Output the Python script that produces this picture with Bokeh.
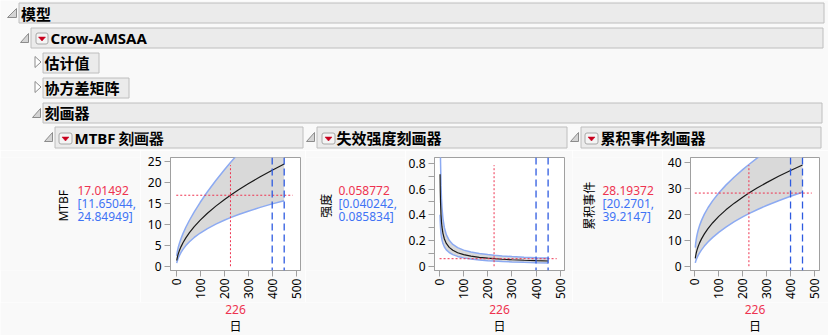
import math
from bokeh.plotting import figure
from bokeh.models import Range1d, FixedTicker, Span
from bokeh.layouts import column, row
from bokeh.embed import file_html
from bokeh.resources import INLINE
from bokeh.core.properties import value

# ---------------- data ----------------
days = [2, 3, 4, 6, 8, 10, 14, 20, 28, 40, 55, 75, 100, 130, 165, 200, 226, 260, 300, 350, 400, 450]
mtbf = [1.3963, 1.7303, 2.0147, 2.4965, 2.9068, 3.2709, 3.9080, 4.7192, 5.6385, 6.8088, 8.0580,
        9.4946, 11.0546, 12.7002, 14.4067, 15.9497, 17.01492, 18.3237, 19.7644, 21.4436, 23.0123, 24.4915]
mtbf_lo = [0.7823, 1.0185, 1.2264, 1.5895, 1.9062, 2.1911, 2.6946, 3.3376, 4.0600, 4.9594, 5.8873,
           6.9107, 7.9720, 9.0413, 10.1035, 11.0286, 11.65044, 12.397, 13.1996, 14.112, 14.944, 15.713]
mtbf_hi = [2.4923, 2.9396, 3.3096, 3.9211, 4.4327, 4.8828, 5.6678, 6.6727, 7.8307, 9.3479, 11.029,
           13.045, 15.329, 17.840, 20.543, 23.067, 24.84949, 27.084, 29.594, 32.584, 35.437, 38.175]
intens = [0.71617, 0.57794, 0.49636, 0.40056, 0.34403, 0.30573, 0.25589, 0.21190, 0.17735, 0.14687, 0.12410,
          0.10532, 0.090460, 0.078739, 0.069412, 0.062697, 0.058772, 0.054574, 0.050596, 0.046634, 0.043455, 0.040830]
intens_lo = [0.40123, 0.34018, 0.30216, 0.25503, 0.22560, 0.20480, 0.17644, 0.14986, 0.12770, 0.10698, 0.09067,
             0.07666, 0.065235, 0.056054, 0.048679, 0.043353, 0.040242, 0.036923, 0.033790, 0.030690, 0.028220, 0.026195]
intens_hi = [1.2783, 0.98187, 0.81538, 0.62914, 0.52463, 0.45639, 0.37112, 0.29961, 0.24630, 0.20164, 0.16986,
             0.14470, 0.12544, 0.11060, 0.098975, 0.090673, 0.085834, 0.080664, 0.075760, 0.070862, 0.066916, 0.063643]
cum = [3.0403, 3.6802, 4.2143, 5.1014, 5.8418, 6.4893, 7.6041, 8.9955, 10.5406, 12.4695, 14.4877,
       16.7672, 19.2010, 21.7271, 24.3102, 26.6162, 28.19372, 30.1181, 32.2185, 34.6451, 36.8949, 39.0]
cum_lo = [1.2864, 1.6460, 1.9597, 2.5046, 2.9789, 3.4065, 4.1669, 5.1529, 6.2866, 7.7467, 9.3147,
          11.1196, 13.0702, 15.104, 17.180, 19.021, 20.2701, 21.779, 23.407, 25.257, 26.943, 28.494]
cum_hi = [7.186, 8.2285, 9.0626, 10.391, 11.456, 12.362, 13.877, 15.704, 17.673, 20.071, 22.533,
          25.283, 28.208, 31.255, 34.400, 37.244, 39.2147, 41.649, 44.348, 47.522, 50.522, 53.380]

current_day = 226
marker_days = [400, 450]
x_ticks = [0, 100, 200, 300, 400, 500]

current_values = [17.01492, 0.058772, 28.19372]
readout_value = ["17.01492", "0.058772", "28.19372"]
readout_lo = ["[11.65044,", "[0.040242,", "[20.2701,"]
readout_hi = ["24.84949]", "0.085834]", "39.2147]"]
y_titles = ["MTBF", "强度", "累积事件"]
x_title = "日"
panel_titles = ["MTBF 刻画器", "失效强度刻画器", "累积事件刻画器"]
outline_titles = ["模型", "Crow-AMSAA", "估计值", "协方差矩阵", "刻画器"]

# ---------------- style ----------------
PAGE_BG = "#F9F9F9"
HDR_FILL = "#EBEBEB"
HDR_LINE = "#BEBEBE"
FRAME = "#A0A0A0"
RED = "#EE3350"
BLUE_TXT = "#3F73F5"
BAND = "#D9D9D9"
BAND_EDGE = "#8CAAF2"
DASH_BLUE = "#2E5BE0"
CJK = "Noto Sans CJK SC"
LAT = "Noto Sans"

TOP_H = 150
MID_H = 152
BOT_H = 335 - TOP_H - MID_H


def canvas(W, H):
    c = figure(width=W, height=H, x_range=Range1d(0, W), y_range=Range1d(H, 0),
               output_backend="svg", toolbar_location=None, x_axis_type=None, y_axis_type=None,
               min_border=0)
    c.grid.visible = False
    c.outline_line_color = None
    c.background_fill_color = PAGE_BG
    c.border_fill_color = PAGE_BG
    return c


# ---------------- header canvas ----------------
top = canvas(828, TOP_H)
boxes = [  # left, right, top, bottom
    (18.5, 823.5, 2.5, 22.5),
    (30.5, 822.5, 27.5, 47.5),
    (42.5, 98.5, 52.5, 72.5),
    (42.5, 128.5, 77.5, 97.5),
    (42.5, 821.5, 102.5, 122.5),
    (54.5, 302.5, 126.5, 147.5),
    (316.5, 566.5, 126.5, 147.5),
    (580.5, 820.5, 126.5, 147.5),
]
top.quad(left=[b[0] for b in boxes], right=[b[1] for b in boxes],
         top=[b[2] for b in boxes], bottom=[b[3] for b in boxes],
         fill_color=HDR_FILL, line_color=HDR_LINE, line_width=1)

exp_tri = [(7, 16, 8, 17), (20, 28, 33, 42), (32, 40, 108, 117), (44, 52, 132, 141),
           (306, 314, 132, 141), (570, 578, 132, 141)]
top.patches(xs=[[a, b, b] for a, b, c, d in exp_tri], ys=[[d, d, c] for a, b, c, d in exp_tri],
            fill_color="#D4D4D4", line_color="#8C8C8C", line_width=1)
col_tri = [(34.5, 40.5, 56, 67), (34.5, 40.5, 81, 92)]
top.patches(xs=[[a, b, a] for a, b, c, d in col_tri], ys=[[c, (c + d) / 2, d] for a, b, c, d in col_tri],
            fill_color="#FFFFFF", line_color="#8C8C8C", line_width=1)
icons = [(35.5, 47.5, 32.5, 43.5), (58.5, 71.5, 132.5, 143.5), (321.5, 334.5, 132.5, 143.5),
         (584.5, 597.5, 132.5, 143.5)]
top.quad(left=[i[0] for i in icons], right=[i[1] for i in icons], top=[i[2] for i in icons],
         bottom=[i[3] for i in icons], fill_color="#F4F4F4", line_color="#A8A8A8", line_width=1,
         border_radius=2)
top.patches(xs=[[(a + b) / 2 - 3.5, (a + b) / 2 + 3.5, (a + b) / 2] for a, b, c, d in icons],
            ys=[[(c + d) / 2 - 1.5, (c + d) / 2 - 1.5, (c + d) / 2 + 2.5] for a, b, c, d in icons],
            fill_color="#C8001E", line_color="#C8001E", line_width=0.5)

titles = outline_titles + panel_titles
title_x = [20.5, 50, 44, 44, 44, 74, 336, 600]
title_y = [12.5, 37, 62, 87, 112, 137, 137, 137]
title_font = [CJK, LAT, CJK, CJK, CJK, LAT, CJK, CJK]
top.text(x=title_x, y=title_y, text=titles, text_font=title_font, text_font_size="15px",
         text_font_style="bold", text_baseline="middle", text_align="left", text_color="#000000")


# ---------------- profiler plots ----------------
def plot(W, fl, fw, xr, yr, ticker, est, lo, hi, idx):
    p = figure(width=W, height=MID_H, x_range=Range1d(*xr), y_range=Range1d(*yr),
               output_backend="svg", toolbar_location=None,
               min_border_left=fl, min_border_right=W - fl - fw, min_border_top=7, min_border_bottom=31)
    p.grid.visible = False
    p.background_fill_color = "#FFFFFF"
    p.border_fill_color = PAGE_BG
    p.outline_line_color = FRAME
    for ax in (p.xaxis[0], p.yaxis[0]):
        ax.axis_line_color = FRAME
        ax.major_tick_line_color = FRAME
        ax.minor_tick_line_color = FRAME
        ax.major_tick_in = 0
        ax.major_tick_out = 6
        ax.minor_tick_in = 0
        ax.minor_tick_out = 0
        ax.major_label_text_font = LAT
        ax.major_label_text_font_size = "12px"
        ax.major_label_text_color = "#000000"
    p.xaxis.major_label_standoff = 2
    p.yaxis.major_label_standoff = 3
    p.xaxis.ticker = FixedTicker(ticks=x_ticks)
    p.xaxis.major_label_orientation = math.pi / 2
    p.yaxis.ticker = ticker
    if ticker.minor_ticks:
        p.yaxis.minor_tick_out = 6

    p.varea(x=days, y1=lo, y2=hi, fill_color=BAND)
    p.line(days, lo, line_color=BAND_EDGE, line_width=1.5)
    p.line(days, hi, line_color=BAND_EDGE, line_width=1.5)
    p.line(days, est, line_color="#1A1A1A", line_width=1.2)

    y0, y1 = yr
    x0, x1 = xr
    p.segment(x0=[current_day], x1=[current_day], y0=[y0 + 0.038 * (y1 - y0)], y1=[y0 + 0.932 * (y1 - y0)],
              line_color=RED, line_width=1, line_dash="2 2")
    p.segment(x0=[0], x1=[x0 + 0.94 * (x1 - x0)], y0=[current_values[idx]], y1=[current_values[idx]],
              line_color=RED, line_width=1, line_dash="2 2")
    for m in marker_days:
        p.add_layout(Span(location=m, dimension="height", line_color=DASH_BLUE, line_width=1.3,
                          line_dash="7 4"))
    return p


def side(W, idx, y_label_x, readout_x):
    c = canvas(W, MID_H)
    c.text(x=[y_label_x], y=[65], text=[y_titles[idx]], angle=math.pi / 2,
           text_font=value(CJK if idx else LAT), text_font_size="12px",
           text_align="center", text_baseline="middle", text_color="#000000")
    c.text(x=[readout_x] * 3, y=[45, 62, 79], text=[readout_value[idx], readout_lo[idx], readout_hi[idx]],
           text_color=[RED, BLUE_TXT, BLUE_TXT], text_font=value(LAT), text_font_size="12px",
           text_align="left", text_baseline="middle")
    return c


c1 = side(140, 0, 63, 77)
f1 = plot(165, 30, 130, (-24, 518), (-1.0, 26.05), FixedTicker(ticks=[0, 5, 10, 15, 20, 25]),
          mtbf, mtbf_lo, mtbf_hi, 0)
c2 = side(100, 1, 20, 33)
f2 = plot(167, 29, 130, (-21, 518), (-0.033, 0.846),
          FixedTicker(ticks=[0, 0.2, 0.4, 0.6, 0.8], minor_ticks=[0.1, 0.3, 0.5, 0.7]),
          intens, intens_lo, intens_hi, 1)
f2.yaxis.major_label_overrides = {0: "0", 0.2: "0.2", 0.4: "0.4", 0.6: "0.6", 0.8: "0.8"}
c3 = side(90, 2, 16, 30)
f3 = plot(166, 28, 129, (-18, 521), (-1.65, 41.9), FixedTicker(ticks=[0, 10, 20, 30, 40]),
          cum, cum_lo, cum_hi, 2)

# ---------------- bottom strip: current day and x title ----------------
bot = canvas(828, BOT_H)
centers = [235, 499, 754.5]
bot.text(x=centers, y=[7] * 3, text=[str(current_day)] * 3, text_color=RED, text_font=value(LAT),
         text_font_size="12px", text_align="center", text_baseline="middle")
bot.text(x=centers, y=[23] * 3, text=[x_title] * 3, text_color="#000000", text_font=value(CJK),
         text_font_size="12px", text_align="center", text_baseline="middle")

layout = column(top, row(c1, f1, c2, f2, c3, f3, spacing=0), bot, spacing=0)
open("out.html", "w").write(file_html(layout, INLINE))
